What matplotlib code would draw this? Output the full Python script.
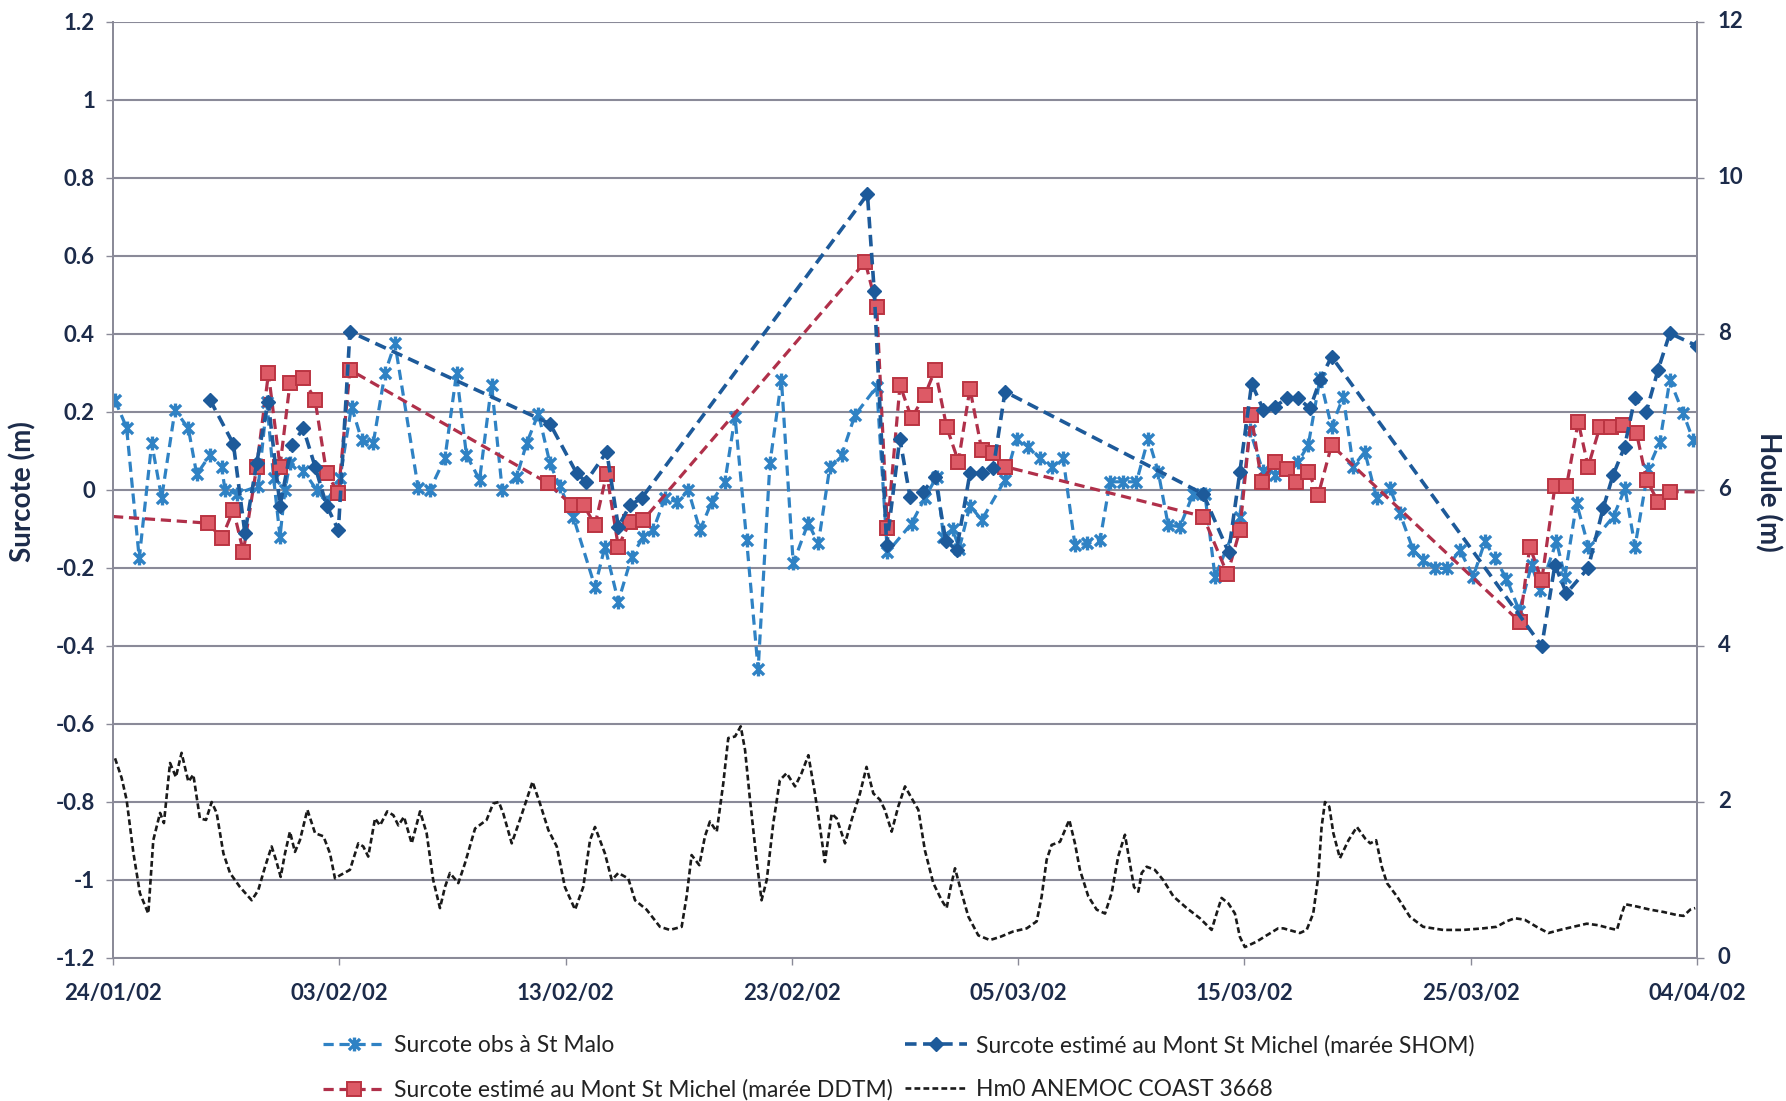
import datetime as dt
import matplotlib
matplotlib.use("Agg")
import matplotlib.pyplot as plt
import matplotlib.dates as mdates
from matplotlib.path import Path
from matplotlib.ticker import FixedLocator, FuncFormatter

# ---------------- data (days after 24/01/2002, values) ----------------
start_date = "24/01/02"

malo_day = [0.09, 0.60, 1.16, 1.71, 2.15, 2.74, 3.33, 3.70, 4.29, 4.80, 4.95, 5.46, 6.42, 6.80,
            7.10, 7.38, 7.60, 7.82, 8.41, 9.00, 9.44, 10.03, 10.54, 10.99, 11.50, 12.02, 12.46,
            13.49, 14.00, 14.67, 15.18, 15.62, 16.20, 16.73, 17.20, 17.84, 18.28, 18.80, 19.31,
            19.75, 20.34, 21.30, 21.74, 22.33, 22.92, 23.43, 23.87, 24.39, 24.91, 25.42, 25.94,
            26.46, 27.04, 27.49, 28.00, 28.51, 29.03, 29.54, 30.06, 30.72, 31.17, 31.68, 32.20,
            32.79, 33.75, 34.22, 35.29, 35.88, 36.40, 36.70, 37.10, 37.40, 37.87, 38.39, 39.42,
            39.93, 40.45, 40.96, 41.48, 41.99, 42.51, 43.03, 43.62, 44.06, 44.64, 45.23, 45.75,
            46.19, 46.63, 47.15, 47.74, 48.25, 48.70, 49.80, 50.24, 50.80, 51.34, 52.38, 52.82,
            53.34, 53.85, 54.37, 54.81, 55.32, 55.84, 56.43, 56.87, 57.46, 57.90, 58.42, 58.94,
            59.52, 60.11, 60.63, 61.07, 61.58, 62.15, 62.69, 63.05, 63.79, 64.16, 64.68, 65.20,
            66.31, 66.82, 67.26, 67.85, 68.36, 68.80, 69.39, 69.83]
malo_val = [0.23, 0.16, -0.175, 0.12, -0.02, 0.205, 0.158, 0.04, 0.09, 0.06, 0.0, -0.01, 0.01, 0.225,
            0.03, -0.12, 0.0, 0.07, 0.05, 0.0, -0.03, 0.03, 0.214, 0.128, 0.12, 0.30, 0.376,
            0.004, 0.0, 0.082, 0.299, 0.09, 0.026, 0.27, 0.0, 0.034, 0.12, 0.196, 0.068,
            0.009, -0.069, -0.248, -0.145, -0.286, -0.171, -0.12, -0.103, -0.021, -0.03, 0.0, -0.103,
            -0.03, 0.021, 0.188, -0.128, -0.46, 0.068, 0.282, -0.188, -0.085, -0.137, 0.06, 0.09,
            0.192, 0.265, -0.16, -0.086, -0.02, 0.034, -0.12, -0.10, -0.15, -0.04, -0.077, 0.026,
            0.131, 0.111, 0.081, 0.06, 0.081, -0.141, -0.137, -0.128, 0.021, 0.021, 0.021, 0.132,
            0.047, -0.09, -0.094, -0.009, -0.009, -0.222, -0.068, 0.154, 0.05, 0.038, 0.073, 0.115,
            0.286, 0.162, 0.239, 0.06, 0.098, -0.021, 0.004, -0.06, -0.154, -0.18, -0.201, -0.201,
            -0.154, -0.222, -0.132, -0.175, -0.227, -0.31, -0.192, -0.256, -0.132, -0.222, -0.034, -0.145,
            -0.068, 0.004, -0.145, 0.055, 0.124, 0.282, 0.197, 0.128]

shom_day = [4.29, 5.32, 5.83, 6.35, 6.86, 7.38, 7.90, 8.41, 8.93, 9.44, 9.96, 10.47, 19.31, 20.49,
            20.90, 21.82, 22.33, 22.85, 23.36, 33.34, 33.64, 34.19, 34.77, 35.22, 35.81, 36.33,
            36.80, 37.28, 37.87, 38.39, 38.90, 39.42, 48.18, 49.30, 49.80, 50.32, 50.84, 51.35,
            51.87, 52.38, 52.90, 53.34, 53.85, 63.14, 63.72, 64.23, 65.19, 65.85, 66.29, 66.80,
            67.25, 67.76, 68.28, 68.80, 69.98]
shom_val = [0.231, 0.118, -0.111, 0.07, 0.226, -0.04, 0.115, 0.158, 0.06, -0.04, -0.103, 0.406, 0.17, 0.043,
            0.021, 0.098, -0.094, -0.039, -0.021, 0.758, 0.51, -0.141, 0.132, -0.017, -0.004, 0.034,
            -0.13, -0.154, 0.043, 0.043, 0.056, 0.252, -0.01, -0.16, 0.047, 0.273, 0.205, 0.214,
            0.235, 0.235, 0.209, 0.282, 0.342, -0.40, -0.192, -0.265, -0.2, -0.047, 0.038, 0.111,
            0.235, 0.201, 0.308, 0.402, 0.37]

ddtm_day = [0.0, 4.21, 4.80, 5.32, 5.76, 6.35, 6.87, 7.38, 7.82, 8.41, 8.93, 9.44, 9.96, 10.47,
            19.24, 20.27, 20.80, 21.30, 21.82, 22.33, 22.85, 23.43, 33.24, 33.75, 34.22, 34.78,
            35.29, 35.88, 36.33, 36.84, 37.36, 37.87, 38.39, 38.90, 39.42, 48.18, 49.25, 49.80,
            50.30, 50.76, 51.35, 51.87, 52.30, 52.82, 53.26, 53.85, 62.17, 62.61, 63.14, 63.72,
            64.23, 64.75, 65.19, 65.71, 66.22, 66.74, 67.33, 67.77, 68.28, 68.80, 70.0]
ddtm_val = [-0.068, -0.085, -0.124, -0.051, -0.158, 0.06, 0.299, 0.06, 0.274, 0.286, 0.231, 0.043, -0.008, 0.308,
            0.017, -0.039, -0.039, -0.09, 0.042, -0.145, -0.081, -0.077, 0.585, 0.47, -0.098, 0.269,
            0.184, 0.244, 0.308, 0.162, 0.073, 0.26, 0.103, 0.094, 0.06, -0.068, -0.216, -0.103,
            0.192, 0.021, 0.073, 0.055, 0.021, 0.047, -0.013, 0.115, -0.338, -0.145, -0.231, 0.009,
            0.009, 0.175, 0.06, 0.162, 0.162, 0.166, 0.145, 0.026, -0.03, -0.004, -0.005]

hm0_day = [0.09, 0.38, 0.6, 0.9, 1.19, 1.56, 1.78, 2.08, 2.25, 2.52, 2.78, 3.03, 3.33, 3.55, 3.84, 4.11,
           4.36, 4.58, 4.88, 5.17, 5.61, 6.13, 6.42, 6.72, 7.01, 7.2, 7.41, 7.6, 7.82, 8.04, 8.26, 8.59,
           8.93, 9.3, 9.59, 9.81, 10.03, 10.47, 10.84, 11.06, 11.28, 11.58, 11.8, 12.12, 12.39, 12.61,
           12.86, 13.2, 13.57, 13.86, 14.15, 14.45, 14.67, 14.89, 15.26, 15.55, 16.0, 16.51, 16.8, 17.05,
           17.25, 17.62, 17.98, 18.28, 18.54, 18.87, 19.24, 19.61, 19.97, 20.42, 20.78, 21.08, 21.3,
           21.74, 22.04, 22.33, 22.77, 23.07, 23.58, 24.17, 24.61, 25.13, 25.35, 25.57, 25.91, 26.16,
           26.38, 26.68, 26.97, 27.19, 27.49, 27.74, 27.93, 28.15, 28.44, 28.66, 28.89, 29.18, 29.47,
           29.77, 30.14, 30.43, 30.73, 31.02, 31.24, 31.46, 31.76, 31.98, 32.35, 32.64, 33.01, 33.3,
           33.6, 33.89, 34.11, 34.41, 34.7, 35.0, 35.29, 35.59, 35.88, 36.25, 36.62, 36.84, 37.02,
           37.21, 37.43, 37.8, 38.24, 38.75, 39.2, 39.78, 40.38, 40.82, 41.04, 41.26, 41.48, 41.85,
           42.26, 42.51, 42.73, 43.1, 43.47, 43.84, 44.13, 44.42, 44.72, 44.91, 45.12, 45.31, 45.46,
           45.68, 46.04, 46.41, 46.86, 47.45, 48.03, 48.55, 48.77, 48.99, 49.29, 49.58, 49.8, 50.02,
           50.54, 50.98, 51.49, 51.72, 52.45, 52.75, 53.04, 53.26, 53.41, 53.56, 53.75, 53.93, 54.22,
           54.6, 54.97, 55.34, 55.56, 55.82, 56.07, 56.3, 56.74, 57.31, 57.9, 58.78, 59.67, 60.55,
           61.14, 61.58, 61.95, 62.39, 62.91, 63.43, 63.94, 64.53, 65.13, 65.64, 66.16, 66.46, 66.68,
           66.82, 67.34, 67.93, 68.52, 69.12, 69.41, 69.7, 69.92]
hm0_val = [2.56, 2.31, 2.03, 1.35, 0.83, 0.57, 1.51, 1.86, 1.73, 2.5, 2.32, 2.63, 2.26, 2.35, 1.79, 1.77,
           2.0, 1.86, 1.34, 1.09, 0.91, 0.74, 0.87, 1.17, 1.43, 1.26, 1.04, 1.34, 1.62, 1.36, 1.51, 1.9,
           1.6, 1.56, 1.34, 1.02, 1.06, 1.13, 1.47, 1.43, 1.3, 1.79, 1.7, 1.88, 1.83, 1.7,
           1.81, 1.47, 1.88, 1.6, 1.0, 0.64, 0.91, 1.09, 0.96, 1.21, 1.66, 1.77, 1.98, 2.0,
           1.85, 1.47, 1.77, 2.03, 2.26, 1.98, 1.64, 1.43, 0.91, 0.62, 0.91, 1.51, 1.68,
           1.34, 1.0, 1.09, 1.02, 0.74, 0.62, 0.4, 0.36, 0.4, 0.79, 1.32, 1.19, 1.56,
           1.75, 1.62, 2.24, 2.82, 2.84, 2.97, 2.67, 2.03, 1.26, 0.74, 1.0, 1.73, 2.28,
           2.37, 2.2, 2.37, 2.6, 2.11, 1.68, 1.23, 1.85, 1.79, 1.47, 1.77, 2.11, 2.45,
           2.11, 2.03, 1.9, 1.62, 1.94, 2.2, 2.05, 1.9, 1.38, 0.96, 0.74, 0.64, 0.91,
           1.15, 0.91, 0.53, 0.29, 0.23, 0.27, 0.34, 0.38, 0.47, 0.79, 1.26, 1.45, 1.49,
           1.77, 1.47, 1.13, 0.79, 0.62, 0.57, 0.83, 1.3, 1.58, 1.26, 0.91, 0.85, 1.09,
           1.17, 1.13, 1.0, 0.79, 0.64, 0.51, 0.36, 0.57, 0.77, 0.7, 0.57, 0.27, 0.14,
           0.21, 0.29, 0.38, 0.38, 0.32, 0.36, 0.57, 1.04, 1.68, 2.0, 1.94, 1.6, 1.28,
           1.51, 1.68, 1.53, 1.47, 1.51, 1.17, 0.96, 0.79, 0.53, 0.4, 0.36, 0.36, 0.38,
           0.4, 0.47, 0.51, 0.49, 0.4, 0.32, 0.36, 0.4, 0.44, 0.42, 0.38, 0.36, 0.57,
           0.69, 0.66, 0.62, 0.59, 0.55, 0.54, 0.62, 0.64]

date_labels = ["24/01/02", "03/02/02", "13/02/02", "23/02/02", "05/03/02", "15/03/02", "25/03/02", "04/04/02"]
surcote_ticks = [-1.2, -1.0, -0.8, -0.6, -0.4, -0.2, 0.0, 0.2, 0.4, 0.6, 0.8, 1.0, 1.2]
houle_ticks = [0, 2, 4, 6, 8, 10, 12]

labels = ["Surcote obs à St Malo",
          "Surcote estimé au Mont St Michel (marée SHOM)",
          "Surcote estimé au Mont St Michel (marée DDTM)",
          "Hm0 ANEMOC COAST 3668"]

# ---------------- helpers ----------------
t0 = dt.datetime.strptime(start_date, "%d/%m/%y")


def to_dates(days):
    return [t0 + dt.timedelta(days=d) for d in days]


tick_dates = [dt.datetime.strptime(s, "%d/%m/%y") for s in date_labels]

star = Path([(-1, -1), (1, 1), (-1, 1), (1, -1), (0, -1.25), (0, 1.25)],
            [Path.MOVETO, Path.LINETO, Path.MOVETO, Path.LINETO, Path.MOVETO, Path.LINETO])

NAVY = "#1c2b4a"
GRID = "#8a8a98"
C_MALO = "#2f82c4"
C_SHOM = "#1d5a9a"
C_DDTM_LINE = "#b0304a"
C_DDTM_FACE = "#dd5a66"
C_DDTM_EDGE = "#bb3442"

plt.rcParams["font.family"] = ["Lato", "DejaVu Sans"]

W, H = 1786, 1101
fig = plt.figure(figsize=(W / 100, H / 100), dpi=100)
fig.patch.set_facecolor("white")
ax = fig.add_axes([113 / W, 1 - 958 / H, 1584 / W, 936 / H])
ax2 = ax.twinx()

dash = (0, (3.2, 1.8))

# St Malo
l_malo, = ax.plot(to_dates(malo_day), malo_val, color=C_MALO, lw=2.3, linestyle=dash,
                  marker=star, markersize=10, markeredgewidth=2.4, markeredgecolor=C_MALO,
                  markerfacecolor="none", zorder=3)
# SHOM
l_shom, = ax.plot(to_dates(shom_day), shom_val, color=C_SHOM, lw=2.6, linestyle=dash,
                  marker="D", markersize=7.5, markerfacecolor=C_SHOM, markeredgecolor=C_SHOM,
                  zorder=4)
# DDTM
l_ddtm, = ax.plot(to_dates(ddtm_day), ddtm_val, color=C_DDTM_LINE, lw=2.3, linestyle=dash,
                  marker="s", markersize=10, markerfacecolor=C_DDTM_FACE, markeredgecolor=C_DDTM_EDGE,
                  markeredgewidth=1.4, markevery=list(range(1, len(ddtm_day) - 1)), zorder=3.5)
# Hm0
l_hm0, = ax2.plot(to_dates(hm0_day), hm0_val, color="#1a1a1a", lw=1.9, linestyle=(0, (2.2, 1.2)))

# axes limits / ticks
ax.set_xlim(tick_dates[0], tick_dates[-1])
ax.set_ylim(-1.2, 1.2)
ax2.set_ylim(0, 12)

ax.xaxis.set_major_locator(FixedLocator(mdates.date2num(tick_dates)))
ax.xaxis.set_major_formatter(FuncFormatter(lambda x, p: mdates.num2date(x).strftime("%d/%m/%y")))
ax.set_yticks(surcote_ticks)
ax.yaxis.set_major_formatter(FuncFormatter(lambda v, p: f"{v:g}"))
ax2.set_yticks(houle_ticks)

for a in (ax, ax2):
    a.spines["top"].set_visible(False)
    for side in ("left", "right", "bottom"):
        a.spines[side].set_color(GRID)
        a.spines[side].set_linewidth(1.3)

ax.grid(axis="y", color=GRID, lw=1.5)
ax.set_axisbelow(True)
ax.tick_params(axis="both", colors=GRID, length=5, width=1.0)
ax.tick_params(axis="x", pad=13, labelcolor=NAVY, labelsize=16)
ax.tick_params(axis="y", pad=8, labelcolor=NAVY, labelsize=16)
# right axis: tick marks from the axis, labels placed against the houle scale
ax2.tick_params(axis="y", colors=GRID, length=5, width=1.0, labelright=False)
for h in houle_ticks:
    ax2.annotate(f"{h:g}", xy=(1, h), xycoords=("axes fraction", "data"),
                 xytext=(15, 0), textcoords="offset points", ha="left", va="center",
                 fontsize=16, fontweight="bold", color=NAVY, annotation_clip=False)
for lab in ax.get_xticklabels() + ax.get_yticklabels():
    lab.set_fontweight("bold")

fig.text(23 / W, 1 - 492 / H, "Surcote (m)", rotation=90, ha="center", va="center",
         fontsize=20, fontweight="bold", color=NAVY)
fig.text(1768 / W, 1 - 492 / H, "Houle (m)", rotation=-90, ha="center", va="center",
         fontsize=20, fontweight="bold", color=NAVY)

leg = fig.legend([l_malo, l_ddtm, l_shom, l_hm0], [labels[0], labels[2], labels[1], labels[3]],
                 ncol=2, loc="upper left", bbox_to_anchor=(302 / W, 1 - 1014 / H),
                 frameon=False, fontsize=16.5, handlelength=2.7, columnspacing=0.55,
                 labelspacing=1.0, handletextpad=0.4, labelcolor="#222222")

fig.savefig("out.png", dpi=100, facecolor="white")
